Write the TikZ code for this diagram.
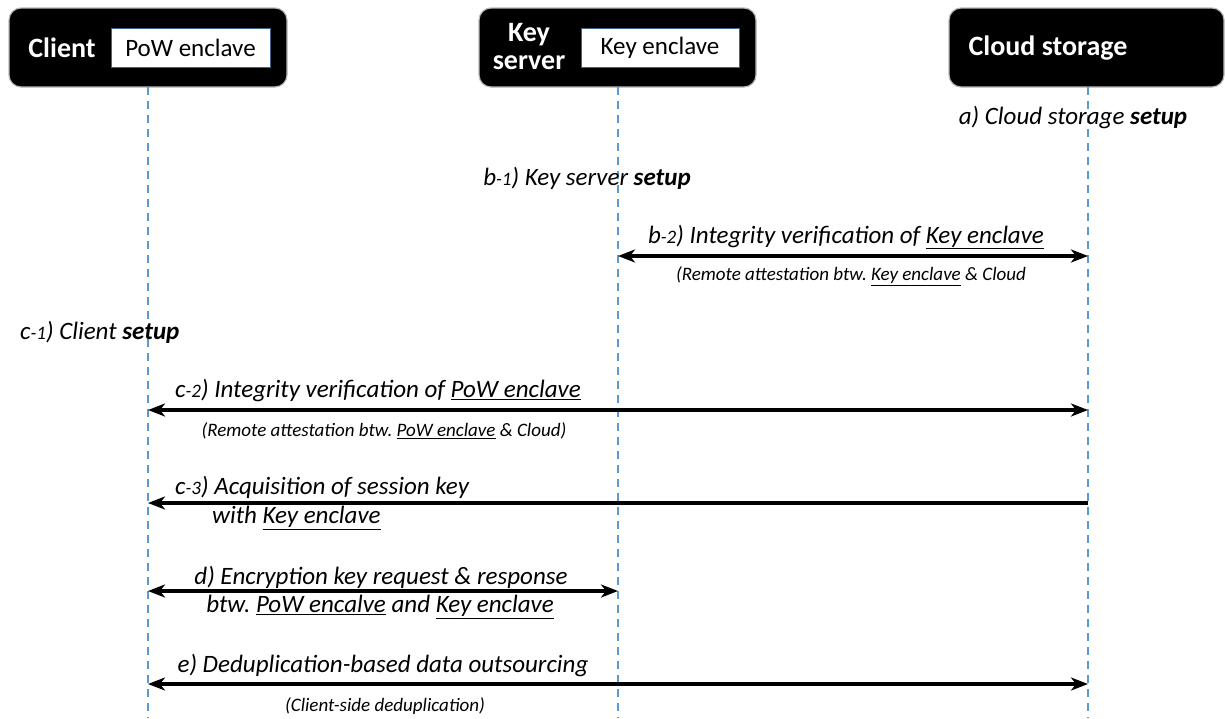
\documentclass[tikz,border=0pt]{standalone}
\usepackage{fontspec}
\setmainfont{Carlito}
\usetikzlibrary{arrows.meta}
\definecolor{lifeblue}{RGB}{91,155,213}
\definecolor{encborder}{RGB}{65,100,140}
\tikzset{
  actor/.style={fill=black, draw=gray!55, line width=1.2pt, rounded corners=12pt},
  enclave/.style={fill=white, draw=encborder, line width=0.8pt},
  actortext/.style={text=white, font=\fontsize{28}{30}\selectfont\bfseries, align=center},
  enctext/.style={font=\fontsize{25}{28}\selectfont},
  lifeline/.style={draw=lifeblue, line width=1.2pt, dash pattern=on 8pt off 6pt},
  lbl/.style={font=\fontsize{25}{29}\selectfont\itshape, inner sep=0pt},
  sublbl/.style={font=\fontsize{19}{22}\selectfont\itshape, inner sep=0pt},
  tip/.style={},
  msg/.style={line width=3.4pt, -{Stealth[length=17pt,width=13pt,inset=5pt]}},
  bimsg/.style={line width=3.4pt, {Stealth[length=17pt,width=13pt,inset=5pt]}-{Stealth[length=17pt,width=13pt,inset=5pt]}}
}
\newcommand{\sm}[1]{{\fontsize{19}{22}\selectfont #1}}
\frenchspacing
\begin{document}
\begin{tikzpicture}[x=1pt,y=-1pt]
\useasboundingbox (0,0) rectangle (1225,718);

% participant boxes
\draw[actor] (9,8) rectangle (287,87);
\draw[actor] (479,8) rectangle (756,87);
\draw[actor] (949,8) rectangle (1224,87);
\node[actortext] (client) at (62,48) {Client};
\node[actortext] (keysrv) at (529,47) {Key\\[-2pt]server};
\node[actortext] (cloud) at (1048,48) {Cloud storage};
\node[enclave, minimum width=159pt, minimum height=39pt, inner sep=0pt] (pow) at (190.5,47.5) {};
\node[enctext] at (pow) {PoW enclave};
\node[enclave, minimum width=158pt, minimum height=39pt, inner sep=0pt] (kenc) at (660,47.5) {};
\node[enctext] at (kenc) {Key enclave};

% lifelines
\coordinate (c0) at (148,87);  \coordinate (c1) at (148,718);
\coordinate (k0) at (618,87);  \coordinate (k1) at (618,718);
\coordinate (s0) at (1088,87); \coordinate (s1) at (1088,718);
\draw[lifeline] (c0) -- (c1);
\draw[lifeline] (k0) -- (k1);
\draw[lifeline] (s0) -- (s1);

% setup steps
\node[lbl] (a) at (1073,118) {a) Cloud storage \textbf{setup}};
\node[lbl] (b1) at (587,178) {b\sm{-1}) Key server \textbf{setup}};
\node[lbl, anchor=west] (c1l) at (20,332) {c\sm{-1}) Client \textbf{setup}};

% b-2
\coordinate (kb) at (618,256); \coordinate (sb) at (1088,256);
\draw[bimsg] (kb) -- (sb);
\node[lbl] at (846,237) {b\sm{-2}) Integrity verification of \underline{Key enclave}};
\node[sublbl] at (851,276) {(Remote attestation btw. \underline{Key enclave} \& Cloud};

% c-2
\coordinate (cc2) at (148,410); \coordinate (sc2) at (1088,410);
\draw[bimsg] (cc2) -- (sc2);
\node[lbl] at (378,391) {c\sm{-2}) Integrity verification of \underline{PoW enclave}};
\node[sublbl] at (384,431) {(Remote attestation btw. \underline{PoW enclave} \& Cloud)};

% c-3
\coordinate (sc3) at (1088,503); \coordinate (cc3) at (148,503);
\draw[msg] (sc3) -- (cc3);
\node[lbl, anchor=west] at (175,487) {c\sm{-3}) Acquisition of session key};
\node[lbl, anchor=west] at (212,518) {with \underline{Key enclave}};

% d
\coordinate (cd) at (148,591); \coordinate (kd) at (618,591);
\draw[bimsg] (cd) -- (kd);
\node[lbl] at (381,577) {d) Encryption key request \& response};
\node[lbl] at (380,607) {btw. \underline{PoW encalve} and \underline{Key enclave}};

% e
\coordinate (ce) at (148,684); \coordinate (se) at (1088,684);
\draw[bimsg] (ce) -- (se);
\node[lbl] at (383,665) {e) Deduplication-based data outsourcing};
\node[sublbl] at (385,706) {(Client-side deduplication)};
\end{tikzpicture}
\end{document}
